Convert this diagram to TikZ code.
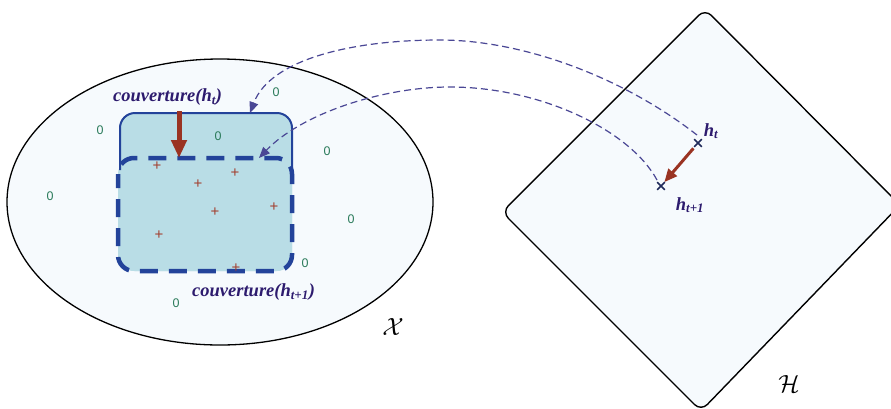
\documentclass[tikz,border=0pt]{standalone}
\usepackage{fontspec}
\setmainfont{Liberation Serif}
\newfontfamily\zerofont{Liberation Sans}
\usetikzlibrary{arrows.meta,shapes.misc}
\definecolor{setfill}{HTML}{F6FAFD}
\definecolor{rectfill}{HTML}{B9DDE6}
\definecolor{rectline}{HTML}{23439A}
\definecolor{redarrow}{HTML}{9A3322}
\definecolor{labelcol}{HTML}{2D1B6E}
\definecolor{curvecol}{HTML}{4A4795}
\definecolor{zerocol}{HTML}{2B7B5B}
\definecolor{pluscol}{HTML}{A34030}
\definecolor{crosscol}{HTML}{1F2A5A}
\tikzset{
  zero/.style={text=zerocol, font=\zerofont\fontsize{12.5}{12.5}\selectfont, inner sep=0pt},
  plusmark/.style={text=pluscol, font=\zerofont\fontsize{15}{15}\selectfont, inner sep=0pt},
  lab/.style={text=labelcol, font=\bfseries\itshape\fontsize{18.5}{18.5}\selectfont, inner sep=0pt},
  cover/.style={text=labelcol, font=\bfseries\itshape\fontsize{18.5}{18.5}\selectfont, inner sep=0pt},
  xmark/.style={cross out, draw=crosscol, line width=1.7pt, minimum size=6pt, inner sep=0pt},
  curve/.style={draw=curvecol, line width=1.2pt, dash pattern=on 7pt off 4pt, -{Triangle[width=9pt,length=11pt]}},
  bigred/.style={draw=redarrow, line width=5pt, -{Triangle[width=15pt,length=18pt]}},
  smallred/.style={draw=redarrow, line width=3pt, -{Triangle[width=11pt,length=13pt]}},
}
\begin{document}
\begin{tikzpicture}[x=1pt,y=-1pt]
\useasboundingbox (0,0) rectangle (891,408);
% space X
\draw[fill=setfill, line width=1.3pt] (220,202) ellipse [x radius=213pt, y radius=143pt];
% space H
\draw[fill=setfill, line width=1.4pt, rounded corners=9pt] (705,9) -- (502,212) -- (701,411) -- (900,205) -- cycle;
% coverage rectangles
\fill[rectfill, rounded corners=15pt] (120,113) rectangle (292,271);
\fill[rectfill, rounded corners=16pt] (118,158) rectangle (292,271);
\draw[rectline, line width=2pt, rounded corners=15pt] (120,170) -- (120,113) -- (292,113) -- (292,170);
\draw[rectline, line width=4.5pt, dash pattern=on 18pt off 11pt, dash phase=4pt, rounded corners=16pt] (118,158) rectangle (292,271);
% zeros
\node[zero] (z1) at (276,92) {0};
\node[zero] (z2) at (100,130) {0};
\node[zero] (z3) at (218,136) {0};
\node[zero] (z4) at (327,151) {0};
\node[zero] (z5) at (50,196) {0};
\node[zero] (z6) at (351,219) {0};
\node[zero] (z7) at (305,263) {0};
\node[zero] (z8) at (176,303) {0};
% pluses
\node[plusmark] (p1) at (157,166) {+};
\node[plusmark] (p2) at (198,184) {+};
\node[plusmark] (p3) at (235,173) {+};
\node[plusmark] (p4) at (215,212) {+};
\node[plusmark] (p5) at (274,207) {+};
\node[plusmark] (p6) at (159,235) {+};
\node[plusmark] (p7) at (236,268) {+};
% labels
\node[cover, anchor=west] (c1) at (113,97) {couverture(h\textsubscript{t})};
\node[cover, anchor=west] (c2) at (192,292) {couverture(h\textsubscript{t+1})};
\node[inner sep=0pt, font=\fontsize{24}{24}\selectfont] (X) at (393,327) {$\mathcal{X}$};
\node[inner sep=0pt, font=\fontsize{32}{32}\selectfont] (H) at (789,384) {$\mathcal{H}$};
% hypotheses
\node[xmark] (ht) at (698,143) {};
\node[xmark] (ht1) at (661,186) {};
\node[lab] (lht) at (711,131) {h\textsubscript{t}};
\node[lab] (lht1) at (690,205) {h\textsubscript{t+1}};
% red arrows
\coordinate (a1s) at (179,111);
\coordinate (a1e) at (179,158);
\draw[bigred] (a1s) -- (a1e);
\draw[smallred, shorten <=2pt] (ht) -- (ht1);
% dashed correspondence curves
\coordinate (s1) at (697,135);
\coordinate (m1) at (440,40);
\coordinate (e1) at (250,113);
\draw[curve] (s1) .. controls (620,75) and (520,40) .. (m1) .. controls (350,40) and (270,60) .. (e1);
\coordinate (s2) at (657,180);
\coordinate (m2) at (450,87);
\coordinate (e2) at (259,158);
\draw[curve] (s2) .. controls (630,130) and (540,87) .. (m2) .. controls (380,87) and (300,115) .. (e2);
\end{tikzpicture}
\end{document}
